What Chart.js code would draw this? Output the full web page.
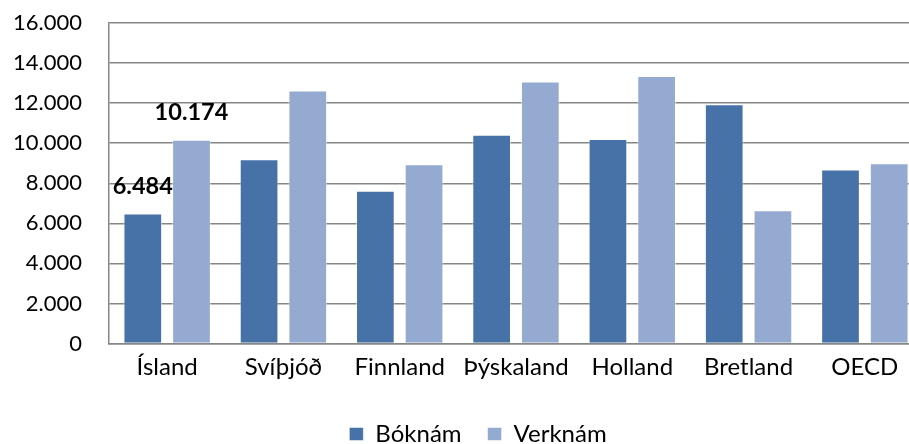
<!DOCTYPE html>
<html>
<head>
<meta charset="utf-8">
<script src="https://cdn.jsdelivr.net/npm/chart.js@4"></script>
<style>
  html, body { margin:0; padding:0; background:#fff; overflow:hidden; }
</style>
</head>
<body>
<canvas id="chart" width="956" height="444"></canvas>
<script>
/* -------- DATA -------- */
const countries = ["Ísland","Svíþjóð","Finnland","Þýskaland","Holland","Bretland","OECD"];
const boknam   = [6484, 9200, 7620, 10420, 10210, 11940, 8690];
const verknam  = [10174, 12630, 8950, 13080, 13350, 6650, 9000];
const yTicks   = [0, 2000, 4000, 6000, 8000, 10000, 12000, 14000, 16000];
const labelledIdx = [0]; // only Ísland has value labels

function fmt(v){
  return String(Math.round(v)).replace(/\B(?=(\d{3})+(?!\d))/g, ".");
}

/* -------- VALUE LABELS ON ÍSLAND -------- */
const valueLabels = {
  id:'valueLabels',
  afterDatasetsDraw(chart){
    const ctx = chart.ctx;
    ctx.save();
    ctx.font = "bold 23.5px Lato";
    ctx.fillStyle = "#000";
    ctx.textAlign = "center";
    ctx.textBaseline = "middle";
    chart.data.datasets.forEach((ds, i) => {
      const meta = chart.getDatasetMeta(i);
      labelledIdx.forEach(j => {
        const bar = meta.data[j];
        ctx.fillText(fmt(ds.data[j]), bar.x, bar.y - 27);
      });
    });
    ctx.restore();
  }
};

Chart.defaults.font.family = "Lato";
Chart.defaults.font.size = 22;
Chart.defaults.color = "#000";

new Chart(document.getElementById("chart"), {
  type:"bar",
  data:{
    labels: countries,
    datasets:[
      { label:"Bóknám", data:boknam, backgroundColor:"#4672A7", borderColor:"rgba(255,255,255,0.5)", borderWidth:1 },
      { label:"Verknám", data:verknam, backgroundColor:"#95AAD1", borderColor:"rgba(255,255,255,0.5)", borderWidth:1 }
    ]
  },
  options:{
    responsive:false,
    animation:false,
    layout:{ padding:{ top:23, left:0, right:0, bottom:-12 } },
    datasets:{ bar:{ categoryPercentage:0.8375, barPercentage:0.795 } },
    scales:{
      x:{
        grid:{ display:false },
        border:{ display:true, color:"#868686", width:1.5 },
        ticks:{ padding:1, maxRotation:0, autoSkip:false, font:{ size:24 } },
        afterFit: s => { s.height = 52.5; }
      },
      y:{
        min:0, max:16000,
        afterBuildTicks: s => { s.ticks = yTicks.map(v => ({value:v})); },
        grid:{ color:"#868686", lineWidth:1.5, drawTicks:false },
        border:{ display:true, color:"#868686", width:1.5 },
        ticks:{ padding:27, callback: v => fmt(v) },
        afterFit: s => { s.width = 109; s.paddingTop = 0; s.paddingBottom = 0; }
      },
      // empty right margin so the legend centres on the whole (wider) chart
      yRight:{
        position:"right",
        grid:{ display:false },
        border:{ display:false },
        ticks:{ display:false },
        afterFit: s => { s.width = 33; s.paddingTop = 0; s.paddingBottom = 0; }
      }
    },
    plugins:{
      legend:{
        position:"bottom",
        labels:{ boxWidth:14, boxHeight:13, padding:26, color:"#000", font:{ size:24 } }
      },
      tooltip:{ enabled:false }
    }
  },
  plugins:[valueLabels]
});
</script>
</body>
</html>
